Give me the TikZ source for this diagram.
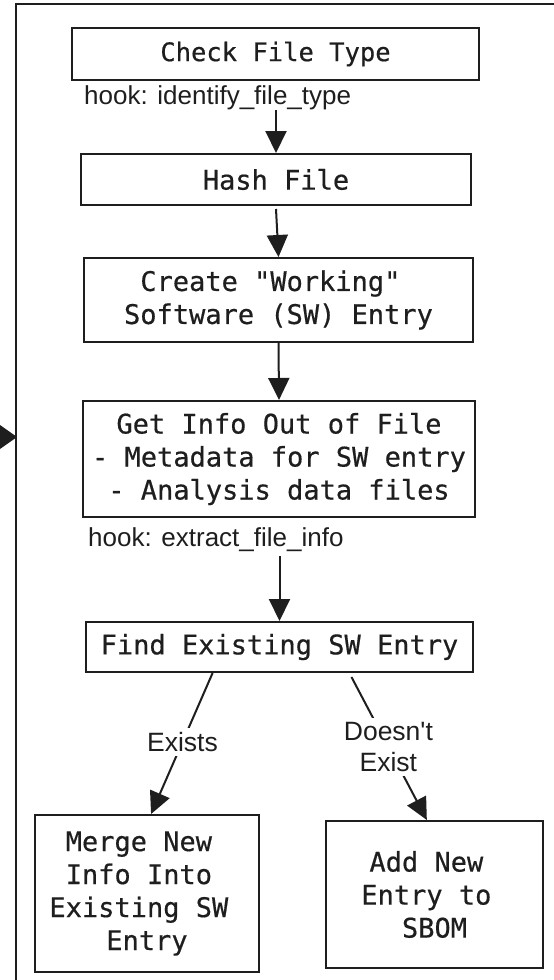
\documentclass[tikz,border=0pt]{standalone}
\usepackage{fontspec}
\usetikzlibrary{arrows.meta,calc}
\newfontfamily\codefont{DejaVu Sans Mono}[FakeBold=0.5]
\newfontfamily\labelfont{Liberation Sans}
\definecolor{ink}{HTML}{1E1E1E}

\begin{document}
\begin{tikzpicture}[x=1pt,y=-1pt,
  box/.style={draw=ink,line width=2pt,fill=white,align=center,text=ink,inner sep=0pt,
    font=\codefont\fontsize{27}{33}\selectfont},
  hook/.style={anchor=west,text=ink,inner sep=0pt,font=\labelfont\fontsize{26}{31}\selectfont},
  cond/.style={fill=white,text=ink,align=center,inner sep=4pt,
    font=\labelfont\fontsize{26.5}{31}\selectfont},
  flow/.style={draw=ink,line width=2pt,-{Triangle[length=22pt,width=21pt]}},
  frameline/.style={draw=ink,line width=1.8pt}]

\useasboundingbox[fill=white] (0,0) rectangle (554,980);

% outer frame and the incoming arrow on its left side
\draw[frameline] (16,980) -- (16,4) -- (554,4);
\fill[ink] (0,425) -- (17,437) -- (0,449) -- cycle;

% process steps
\node[box,minimum width=407pt,minimum height=52pt,font=\codefont\fontsize{25.5}{31}\selectfont]
  (b1) at (275.5,54) {Check File Type};
\node[hook] (hook1) at (84,98) {hook: identify\_file\_type};
\node[box,minimum width=390pt,minimum height=51pt] (b2) at (276,179.5) {Hash File};
\node[box,minimum width=389pt,minimum height=84pt] (b3) at (278.5,300)
  {Create "Working"\phantom{x}\\Software (SW) Entry};
\node[box,minimum width=392pt,minimum height=116pt] (b4) at (279,459)
  {Get Info Out of File\\- Metadata for SW entry\\- Analysis data files};
\node[hook] (hook2) at (88,540) {hook: extract\_file\_info};
\node[box,minimum width=387pt,minimum height=50pt] (b5) at (279.5,647) {Find Existing SW Entry};
\node[box,minimum width=224pt,minimum height=157pt] (b6) at (147,893.5)
  {Merge New\phantom{x}\\Info Into\phantom{x}\\Existing SW\phantom{x}\\Entry};
\node[box,minimum width=217pt,minimum height=147pt] (b7) at (434.5,894.5)
  {Add New\phantom{x}\\Entry to\phantom{x}\\SBOM};

% connectors
\draw[flow] (b2.north |- hook1.south) -- (b2.north);
\draw[flow] (b2.south) ++(0,3) -- (b3.north);
\draw[flow] (b3.south) -- (b4.north);
\draw[flow] (b5.north |- hook2.south) ++(0,4) -- (b5.north);
\draw[flow] ($(b5.south west)!0.328!(b5.south east)$) -- ($(b6.north west)!0.518!(b6.north east)$)
  node[cond,pos=0.49] {Exists};
\draw[flow] ($(b5.south west)!0.685!(b5.south east)$) ++(0,4) -- ($(b7.north west)!0.465!(b7.north east)$)
  node[cond,pos=0.49] {Doesn't\\Exist};
\end{tikzpicture}
\end{document}
